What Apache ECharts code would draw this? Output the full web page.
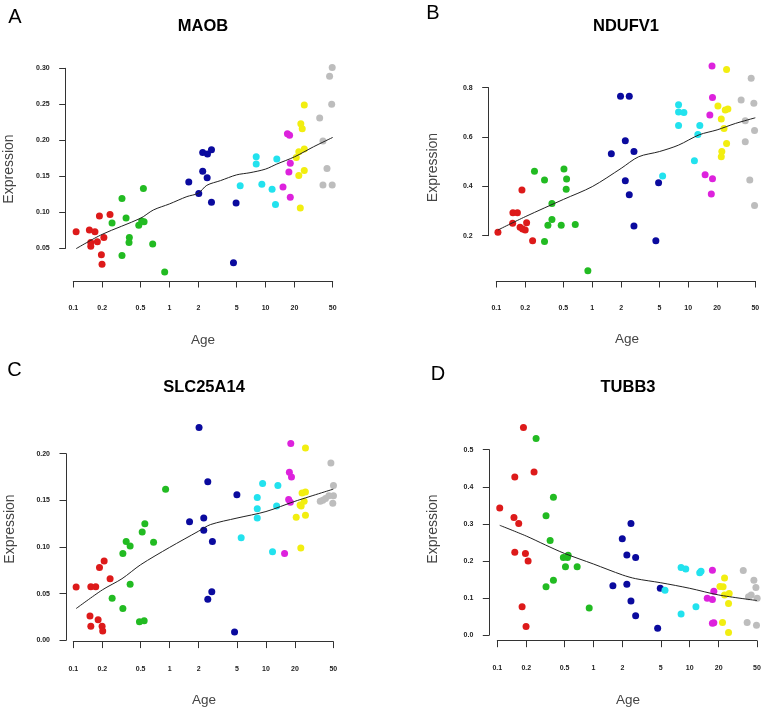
<!DOCTYPE html>
<html><head><meta charset="utf-8">
<script src="https://cdn.jsdelivr.net/npm/echarts@6/dist/echarts.min.js"></script>
<style>html,body{margin:0;padding:0;background:#fff}#c{width:764px;height:711px}</style>
</head><body><div id="c"></div>
<script>
// ---- tick labels ----
const ageTicks = [0.1, 0.2, 0.5, 1, 2, 5, 10, 20, 50];
const ageTickLabels = ['0.1', '0.2', '0.5', '1', '2', '5', '10', '20', '50'];
const groupColors = ['#dd1a1a', '#22bb22', '#0a0a9e', '#22e2ee', '#dd22dd', '#f2ee10', '#bdbdbd'];

// ---- MAOB [age, expression] ----
const maobRed = [[0.107,0.073],[0.147,0.0755],[0.168,0.073],[0.152,0.058],[0.152,0.053],[0.178,0.059],[0.208,0.065],[0.187,0.095],[0.241,0.097],[0.196,0.041],[0.199,0.028]];
const maobGreen = [[0.253,0.085],[0.321,0.119],[0.354,0.092],[0.383,0.065],[0.38,0.058],[0.321,0.040],[0.48,0.082],[0.515,0.088],[0.545,0.087],[0.536,0.133],[0.67,0.056],[0.893,0.017]];
const maobBlue = [[1.59,0.142],[2.02,0.126],[2.22,0.183],[2.49,0.181],[2.74,0.187],[2.22,0.157],[2.47,0.148],[2.74,0.114],[4.94,0.113],[4.64,0.030]];
const maobCyan = [[5.45,0.137],[8.0,0.177],[8.0,0.167],[9.16,0.139],[11.7,0.132],[13.1,0.174],[12.7,0.111]];
const maobMagenta = [[16.9,0.209],[17.8,0.207],[18.1,0.168],[17.5,0.156],[15.2,0.135],[18.1,0.121]];
const maobYellow = [[25.3,0.249],[23.3,0.223],[24.1,0.216],[25.3,0.188],[22.2,0.184],[20.9,0.176],[25.3,0.158],[22.2,0.151],[23.0,0.106]];
const maobGray = [[49.4,0.301],[46.4,0.289],[48.8,0.250],[36.6,0.231],[39.6,0.199],[43.6,0.161],[39.6,0.138],[49.4,0.138]];
const maobFit = [[0.107,0.0495],[0.2,0.0694],[0.5,0.0917],[0.68,0.1032],[1,0.1116],[1.52,0.1218],[2,0.1265],[2.45,0.1375],[3.4,0.144],[5,0.152],[6.9,0.155],[10,0.160],[13.1,0.167],[20,0.177],[31.6,0.191],[50,0.204]];

// ---- NDUFV1 ----
const ndufRed = [[0.104,0.214],[0.148,0.25],[0.149,0.293],[0.166,0.293],[0.185,0.385],[0.177,0.234],[0.188,0.227],[0.2,0.223],[0.207,0.253],[0.239,0.18]];
const ndufGreen = [[0.25,0.461],[0.318,0.426],[0.38,0.331],[0.38,0.266],[0.345,0.242],[0.318,0.176],[0.475,0.242],[0.507,0.470],[0.54,0.430],[0.535,0.388],[0.665,0.245],[0.90,0.058]];
const ndufBlue = [[1.58,0.532],[1.97,0.765],[2.43,0.765],[2.21,0.585],[2.21,0.423],[2.72,0.541],[2.43,0.366],[2.72,0.239],[4.91,0.415],[4.6,0.180]];
const ndufCyan = [[5.41,0.442],[7.93,0.731],[7.93,0.701],[9.01,0.699],[7.93,0.647],[13.2,0.647],[12.6,0.610],[11.6,0.504]];
const ndufMagenta = [[17.7,0.888],[17.9,0.760],[16.8,0.689],[15.0,0.447],[17.9,0.431],[17.4,0.369]];
const ndufYellow = [[25.1,0.874],[20.4,0.726],[24.3,0.710],[25.9,0.714],[22.1,0.673],[23.6,0.635],[25.1,0.574],[22.4,0.541],[22.1,0.520]];
const ndufGray = [[45.3,0.838],[35.6,0.750],[48.3,0.737],[39.3,0.666],[49.1,0.626],[39.3,0.581],[43.8,0.426],[49.1,0.322]];
const ndufFit = [[0.104,0.223],[0.2,0.277],[0.5,0.347],[1,0.399],[2,0.473],[3.04,0.520],[5,0.541],[7.9,0.567],[13,0.609],[20,0.629],[31,0.655],[50,0.678]];

// ---- SLC25A14 ----
const slcRed = [[0.107,0.057],[0.152,0.0575],[0.171,0.0575],[0.187,0.078],[0.209,0.085],[0.241,0.066],[0.149,0.026],[0.152,0.015],[0.181,0.022],[0.199,0.015],[0.202,0.010]];
const slcGreen = [[0.253,0.045],[0.327,0.093],[0.327,0.034],[0.354,0.106],[0.389,0.101],[0.389,0.060],[0.486,0.020],[0.544,0.021],[0.519,0.116],[0.553,0.125],[0.681,0.105],[0.908,0.162]];
const slcBlue = [[2.02,0.228],[2.49,0.170],[1.61,0.127],[2.26,0.131],[2.26,0.118],[2.78,0.106],[2.74,0.052],[2.49,0.044],[4.99,0.156],[4.72,0.009]];
const slcCyan = [[5.53,0.110],[9.23,0.168],[8.12,0.153],[8.12,0.141],[8.12,0.131],[13.3,0.166],[12.9,0.144],[11.7,0.095]];
const slcMagenta = [[18.1,0.211],[17.5,0.180],[18.4,0.175],[17.2,0.151],[17.9,0.148],[15.6,0.093]];
const slcYellow = [[25.7,0.206],[23.7,0.158],[25.7,0.159],[24.9,0.149],[22.6,0.145],[23.2,0.144],[25.7,0.134],[20.6,0.132],[23.0,0.099]];
const slcGray = [[47.2,0.190],[50.2,0.166],[50.2,0.155],[36.6,0.149],[38.9,0.150],[41.5,0.152],[45.0,0.155],[49.4,0.147]];
const slcFit = [[0.107,0.034],[0.2,0.054],[0.32,0.066],[0.5,0.081],[1,0.0996],[2,0.117],[2.65,0.124],[5,0.131],[10,0.138],[20,0.149],[50,0.162]];

// ---- TUBB3 ----
const tubbRed = [[0.106,0.343],[0.187,0.560],[0.152,0.426],[0.241,0.440],[0.149,0.317],[0.167,0.301],[0.152,0.223],[0.196,0.220],[0.209,0.200],[0.181,0.076],[0.199,0.023]];
const tubbGreen = [[0.253,0.530],[0.383,0.372],[0.321,0.322],[0.354,0.255],[0.383,0.148],[0.321,0.130],[0.486,0.209],[0.536,0.209],[0.545,0.215],[0.511,0.184],[0.676,0.184],[0.902,0.073]];
const tubbBlue = [[1.59,0.133],[1.99,0.260],[2.22,0.216],[2.45,0.301],[2.22,0.137],[2.74,0.209],[2.45,0.092],[2.74,0.052],[4.94,0.126],[4.64,0.018]];
const tubbCyan = [[5.53,0.121],[8.13,0.182],[9.09,0.178],[12.7,0.168],[13.1,0.172],[8.13,0.057],[11.6,0.076]];
const tubbMagenta = [[17.2,0.175],[17.8,0.118],[15.2,0.099],[17.2,0.096],[17.8,0.033],[17.2,0.032]];
const tubbYellow = [[23.0,0.154],[20.6,0.131],[22.2,0.130],[25.7,0.112],[23.0,0.108],[25.3,0.085],[21.9,0.034],[25.3,0.007]];
const tubbGray = [[36.0,0.174],[46.4,0.148],[48.7,0.128],[43.5,0.108],[40.8,0.103],[50.2,0.099],[39.5,0.034],[49.4,0.026]];
const tubbFit = [[0.106,0.296],[0.2,0.267],[0.316,0.243],[0.5,0.220],[1,0.1915],[2,0.162],[2.74,0.152],[5,0.141],[10,0.126],[20,0.108],[50,0.093]];

// ---- panels (layout separate from data) ----
const panels = [
  { letter:'A', title:'MAOB', groups:[maobRed,maobGreen,maobBlue,maobCyan,maobMagenta,maobYellow,maobGray], fit:maobFit,
    ymin:0.05, ymax:0.30, yint:0.05, dec:2,
    grid:{left:73.3, top:68.3, width:259.4, height:180}, xOff:32.7, yOff:7.6,
    letterPos:[15,17.5], titlePos:[203,26], yNamePos:[9.5,169], xNamePos:[203,340] },
  { letter:'B', title:'NDUFV1', groups:[ndufRed,ndufGreen,ndufBlue,ndufCyan,ndufMagenta,ndufYellow,ndufGray], fit:ndufFit,
    ymin:0.2, ymax:0.8, yint:0.2, dec:1,
    grid:{left:496.3, top:87.7, width:259, height:148}, xOff:45.3, yOff:7.6,
    letterPos:[433,13.5], titlePos:[626,26], yNamePos:[433,167.5], xNamePos:[627,339] },
  { letter:'C', title:'SLC25A14', groups:[slcRed,slcGreen,slcBlue,slcCyan,slcMagenta,slcYellow,slcGray], fit:slcFit,
    ymin:0, ymax:0.20, yint:0.05, dec:2,
    grid:{left:73.3, top:453.7, width:260, height:186.6}, xOff:1.3, yOff:7.3,
    letterPos:[14.5,370], titlePos:[204,387], yNamePos:[10,529], xNamePos:[204,700] },
  { letter:'D', title:'TUBB3', groups:[tubbRed,tubbGreen,tubbBlue,tubbCyan,tubbMagenta,tubbYellow,tubbGray], fit:tubbFit,
    ymin:0, ymax:0.5, yint:0.1, dec:1,
    grid:{left:497.3, top:449.7, width:259.7, height:185.3}, xOff:5.7, yOff:8,
    letterPos:[438,374.5], titlePos:[628,387], yNamePos:[433.5,529], xNamePos:[628,700] }
];

const lg = v => Math.log10(v);
const axisColor = '#333';
const tickFont = { fontSize: 7, color: '#222', fontFamily: 'Liberation Sans', fontWeight: 'bold' };

const grids = [], xAxes = [], yAxes = [], series = [], graphics = [];
panels.forEach((p, i) => {
  grids.push(Object.assign({ containLabel: false }, p.grid));
  xAxes.push({
    type: 'value', gridIndex: i, min: -1, max: lg(50), offset: p.xOff,
    axisLine: { show: true, onZero: false, lineStyle: { color: axisColor, width: 1 } },
    axisTick: { show: true, length: 6.5, lineStyle: { color: axisColor }, customValues: ageTicks.map(lg) },
    axisLabel: Object.assign({ margin: 24, customValues: ageTicks.map(lg),
      formatter: v => { const k = ageTicks.findIndex(t => Math.abs(lg(t) - v) < 1e-6); return k >= 0 ? ageTickLabels[k] : ''; } }, tickFont),
    splitLine: { show: false }
  });
  yAxes.push({
    type: 'value', gridIndex: i, min: p.ymin, max: p.ymax, interval: p.yint, offset: p.yOff,
    axisLine: { show: true, onZero: false, lineStyle: { color: axisColor, width: 1 } },
    axisTick: { show: true, length: 6.5, lineStyle: { color: axisColor } },
    axisLabel: Object.assign({ margin: 16, formatter: v => v.toFixed(p.dec) }, tickFont),
    splitLine: { show: false }
  });
  p.groups.forEach((g, gi) => {
    series.push({
      type: 'scatter', xAxisIndex: i, yAxisIndex: i, clip: false,
      symbol: 'circle', symbolSize: 7,
      itemStyle: { color: groupColors[gi], opacity: 1 },
      data: g.map(d => [lg(d[0]), d[1]]), z: 2
    });
  });
  series.push({
    type: 'line', xAxisIndex: i, yAxisIndex: i, clip: false, smooth: 0.3,
    showSymbol: false, lineStyle: { color: '#222', width: 1 },
    data: p.fit.map(d => [lg(d[0]), d[1]]), z: 3
  });
  graphics.push(
    { type: 'text', x: p.letterPos[0], y: p.letterPos[1], style: { text: p.letter, align: 'center', verticalAlign: 'middle', font: '20px "Liberation Sans"', fill: '#000' } },
    { type: 'text', x: p.titlePos[0], y: p.titlePos[1], style: { text: p.title, align: 'center', verticalAlign: 'middle', font: 'bold 16.5px "Liberation Sans"', fill: '#000' } },
    { type: 'text', x: p.yNamePos[0], y: p.yNamePos[1], rotation: Math.PI / 2, style: { text: 'Expression', align: 'center', verticalAlign: 'middle', font: '14px "Liberation Sans"', fill: '#444' } },
    { type: 'text', x: p.xNamePos[0], y: p.xNamePos[1], style: { text: 'Age', align: 'center', verticalAlign: 'middle', font: '13.5px "Liberation Sans"', fill: '#444' } }
  );
});

const chart = echarts.init(document.getElementById('c'), null, { renderer: 'canvas' });
chart.setOption({
  backgroundColor: '#fff',
  animation: false,
  grid: grids, xAxis: xAxes, yAxis: yAxes, series: series,
  graphic: graphics
});
</script></body></html>
